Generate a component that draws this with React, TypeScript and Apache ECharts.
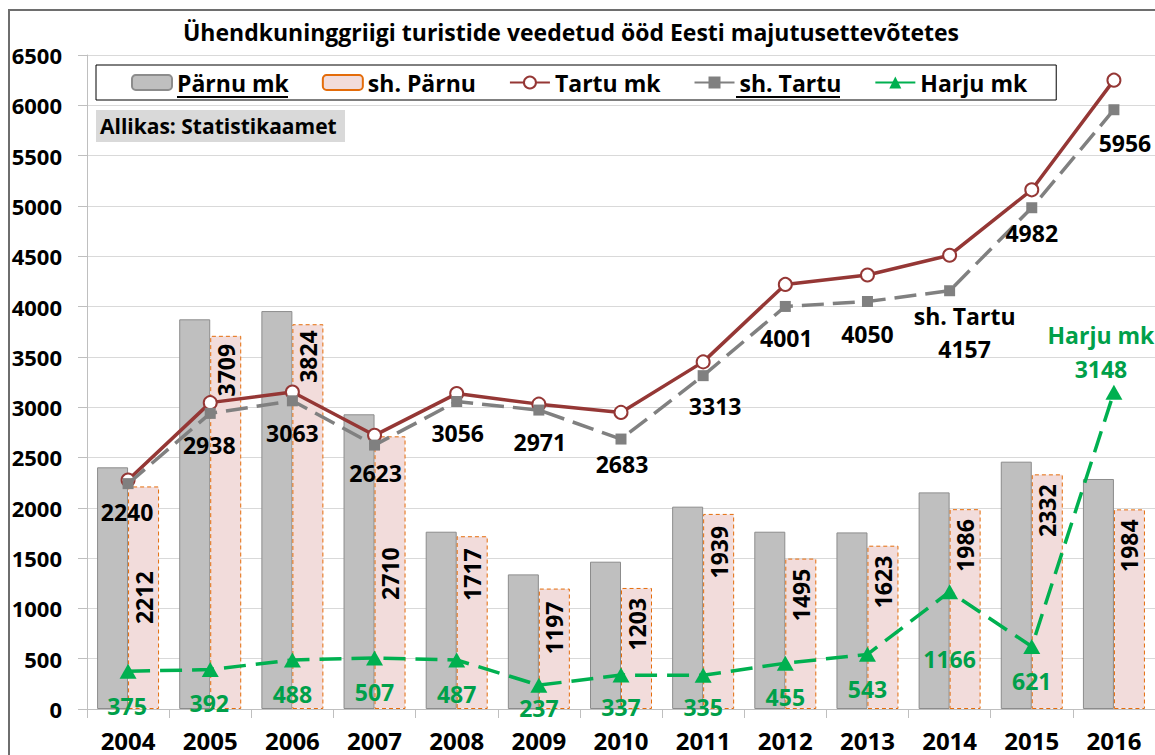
import React, { useEffect, useRef } from "react";
import * as echarts from "echarts";

const years = ["2004", "2005", "2006", "2007", "2008", "2009", "2010", "2011", "2012", "2013", "2014", "2015", "2016"];
const parnuMk = [2402, 3873, 3955, 2929, 1762, 1338, 1464, 2011, 1762, 1755, 2153, 2458, 2286];
const shParnu = [2212, 3709, 3824, 2710, 1717, 1197, 1203, 1939, 1495, 1623, 1986, 2332, 1984];
const tartuMk = [2276, 3045, 3150, 2720, 3135, 3030, 2948, 3450, 4220, 4313, 4510, 5160, 6250];
const shTartu = [2240, 2938, 3063, 2623, 3056, 2971, 2683, 3313, 4001, 4050, 4157, 4982, 5956];
const harjuMk = [375, 392, 488, 507, 487, 237, 337, 335, 455, 543, 1166, 621, 3148];

const yTicks = { min: 0, max: 6500, interval: 500 };
const titleText = "Ühendkuninggriigi turistide veedetud ööd Eesti majutusettevõtetes";
const sourceText = "Allikas: Statistikaamet";

// label placement (layout, not data)
const shParnuLabelTop = [85, 8, 6, 111, 12, 13, 10, 12, 10, 10, 10, 10, 10];
const shTartuLabelOffset = [[-1, 28], [-1, 32], [0, 32], [1, 28], [1, 31], [1, 32], [1, 25], [12, 30], [1, 32], [0, 32], [15, 42], [0, 25], [11, 33]];
const harjuLabelOffset = [[-1, 35], [-1, 33], [0, 34], [0, 34], [0, 34], [0, 23], [0, 32], [0, 32], [0, 34], [0, 35], [0, 67], [0, 34], [-13, -40]];
const shTartuNamedIndex = 10;
const harjuNamedIndex = 12;

const FONT = "'Open Sans'";

export default function App() {
  const ref = useRef<HTMLDivElement>(null);
  useEffect(() => {
    document.body.style.margin = "0";
    const chart = echarts.init(ref.current!, null, { renderer: "svg" });
    const bold = { fontFamily: FONT, fontWeight: "bold" as const, color: "#000" };
    const option: any = {
      animation: false,
      backgroundColor: "#fff",
      grid: { left: 87, right: 0, top: 55, bottom: 46, containLabel: false },
      legend: {
        left: 96,
        top: 65,
        padding: [6, 29, 6, 35],
        itemGap: 33,
        itemWidth: 40,
        itemHeight: 15,
        borderColor: "#000",
        borderWidth: 1,
        backgroundColor: "#fff",
        textStyle: { ...bold, fontSize: 23 },
        data: [
          { name: "Pärnu mk" },
          { name: "sh. Pärnu" },
          { name: "Tartu mk", lineStyle: { type: "solid" } },
          { name: "sh. Tartu", lineStyle: { type: "solid" } },
          { name: "Harju mk", lineStyle: { type: "solid" } },
        ],
      },
      xAxis: {
        type: "category",
        data: years,
        axisLine: { lineStyle: { color: "#BFBFBF", width: 1 } },
        axisTick: { show: true, length: 9, lineStyle: { color: "#BFBFBF" } },
        axisLabel: { ...bold, fontSize: 24, lineHeight: 24, margin: 19 },
      },
      yAxis: {
        type: "value",
        min: yTicks.min,
        max: yTicks.max,
        interval: yTicks.interval,
        axisLine: { show: true, lineStyle: { color: "#BFBFBF", width: 1 } },
        axisTick: { show: true, length: 9, lineStyle: { color: "#BFBFBF" } },
        axisLabel: { ...bold, fontSize: 22, margin: 25, formatter: (v: number) => String(v) },
        splitLine: { lineStyle: { color: "#D9D9D9", width: 1 } },
      },
      series: [
        {
          name: "Pärnu mk",
          type: "bar",
          data: parnuMk,
          barWidth: 31,
          barGap: "0%",
          itemStyle: { color: "#BFBFBF", borderColor: "#8C8C8C", borderWidth: 1 },
        },
        {
          name: "sh. Pärnu",
          type: "bar",
          barWidth: 31,
          barGap: "0%",
          data: shParnu.map((v, i) => ({ value: v, label: { position: ["50%", shParnuLabelTop[i]] } })),
          itemStyle: { color: "#F2DCDB", borderColor: "#E46C0A", borderWidth: 1, borderType: [4, 3] },
          label: { show: true, rotate: 90, align: "right", verticalAlign: "middle", ...bold, fontSize: 23 },
        },
        {
          name: "Tartu mk",
          type: "line",
          data: tartuMk,
          symbol: "emptyCircle",
          symbolSize: 13,
          lineStyle: { color: "#953735", width: 3.5 },
          itemStyle: { color: "#953735", borderWidth: 1 },
          z: 3,
        },
        {
          name: "sh. Tartu",
          type: "line",
          data: shTartu.map((v, i) => ({ value: v, label: { offset: shTartuLabelOffset[i] } })),
          symbol: "rect",
          symbolSize: 11,
          lineStyle: { color: "#808080", width: 3.5, type: [22, 9] },
          itemStyle: { color: "#808080" },
          label: {
            show: true,
            position: "inside",
            ...bold,
            fontSize: 23,
            lineHeight: 33,
            formatter: (p: any) => (p.dataIndex === shTartuNamedIndex ? p.seriesName + "\n" : "") + p.value,
          },
          z: 4,
        },
        {
          name: "Harju mk",
          type: "line",
          data: harjuMk.map((v, i) => ({
            value: v,
            label: i === harjuNamedIndex ? { offset: harjuLabelOffset[i], lineHeight: 34 } : { offset: harjuLabelOffset[i] },
          })),
          symbol: "triangle",
          symbolSize: [17, 15],
          lineStyle: { color: "#00B050", width: 3.5, type: [22, 10] },
          itemStyle: { color: "#00B050" },
          label: {
            show: true,
            position: "inside",
            ...bold,
            color: "#00A04A",
            fontSize: 23,
            lineHeight: 22,
            formatter: (p: any) => (p.dataIndex === harjuNamedIndex ? p.seriesName + "\n" : "") + p.value,
          },
          z: 5,
        },
      ],
      graphic: [
        {
          type: "rect",
          z: -10,
          silent: true,
          shape: { x: 9, y: 10, width: 1300, height: 900 },
          style: { fill: "none", stroke: "#6E6E6E", lineWidth: 2 },
        },
        {
          type: "text",
          x: 571,
          y: 32,
          style: { text: titleText, font: `bold 23px ${FONT}`, fill: "#000", textAlign: "center", textVerticalAlign: "middle" },
        },
        {
          type: "rect",
          shape: { x: 96, y: 110, width: 249, height: 32 },
          style: { fill: "#D9D9D9" },
          z: 10,
        },
        {
          type: "text",
          x: 100,
          y: 126,
          z: 11,
          style: { text: sourceText, font: `bold 21px ${FONT}`, fill: "#000", textVerticalAlign: "middle" },
        },
        {
          type: "line",
          z: 20,
          shape: { x1: 177, y1: 97, x2: 288, y2: 97 },
          style: { stroke: "#000", lineWidth: 2 },
        },
        {
          type: "line",
          z: 20,
          shape: { x1: 736, y1: 97, x2: 840, y2: 97 },
          style: { stroke: "#000", lineWidth: 2 },
        },
      ],
    };
    chart.setOption(option);
    return () => chart.dispose();
  }, []);
  return <div ref={ref} style={{ width: 1155, height: 755 }} />;
}
